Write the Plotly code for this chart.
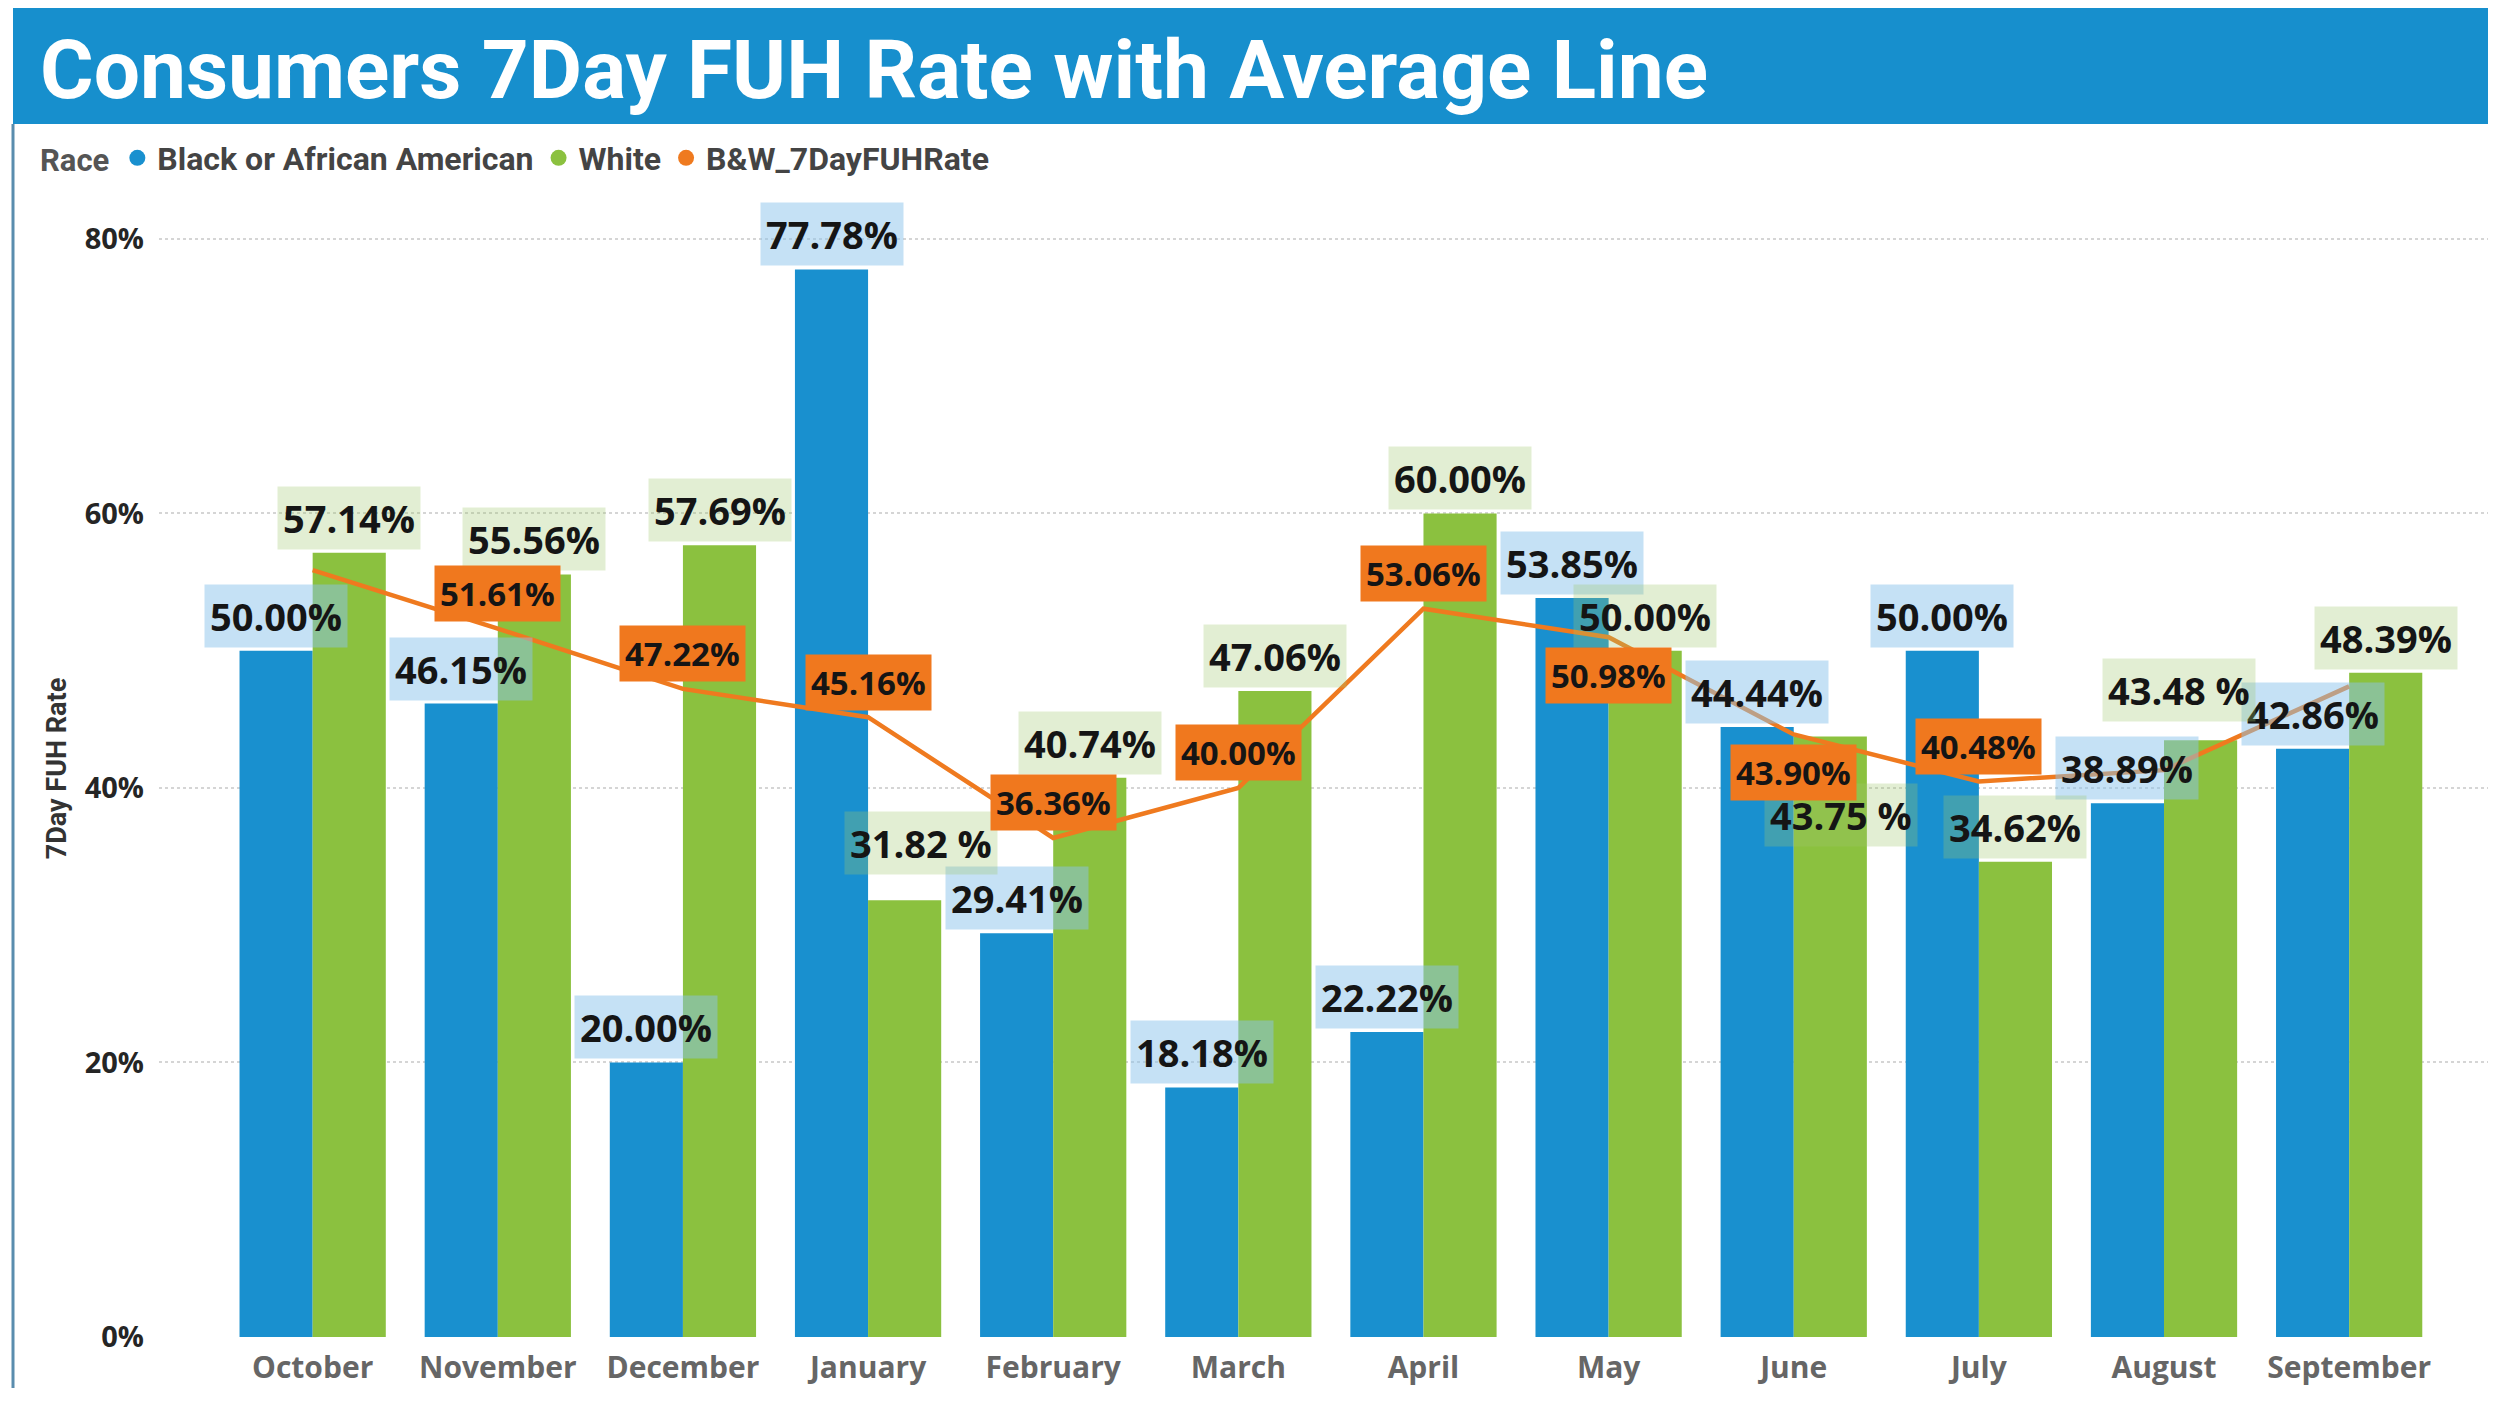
import plotly.graph_objects as go

# ---------------- data ----------------
months = ["October", "November", "December", "January", "February", "March",
          "April", "May", "June", "July", "August", "September"]
black_rate = [50.00, 46.15, 20.00, 77.78, 29.41, 18.18, 22.22, 53.85, 44.44, 50.00, 38.89, 42.86]
white_rate = [57.14, 55.56, 57.69, 31.82, 40.74, 47.06, 60.00, 50.00, 43.75, 34.62, 43.48, 48.39]
bw_rate = [55.88, 51.61, 47.22, 45.16, 36.36, 40.00, 53.06, 50.98, 43.90, 40.48, 41.30, 47.40]
y_ticks = [0, 20, 40, 60, 80]
y_tick_text = ["0%", "20%", "40%", "60%", "80%"]

# label quirks seen in the reference
white_label_spaced = {"January", "June", "August"}        # shown as "xx.xx %"
avg_label_hidden = {"October", "August", "September"}      # hidden by overlap
avg_label_below = {"May", "June"}                          # label placed under the line
white_label_shift = {"January": (16, 57), "June": (11, -78), "August": (-22, 50)}  # (xshift, yshift) px

# ---------------- geometry / style ----------------
W, H = 2480, 1395
ML, MR, MT, MB = 151, 0, 192, 66
PW, PH = W - ML - MR, H - MT - MB
Y_MAX = 82.84

def px(fx):
    return (fx - ML) / PW

def py(fy):
    return (H - MB - fy) / PH

BLUE = "#1990CF"
GREEN = "#8BC13F"
ORANGE = "#EF7A1F"
TITLE_BLUE = "#178FCD"
LABEL_FONT = dict(family="Open Sans", size=38, color="#151515", weight=700)
AVG_FONT = dict(family="Open Sans", size=33, color="#151515", weight=700)
BAR_OFF = 0.1975
LABEL_SHIFT = 35

fig = go.Figure()
fig.add_trace(go.Bar(x=months, y=black_rate, name="Black or African American",
                     marker=dict(color=BLUE, line=dict(width=0)), showlegend=False))
fig.add_trace(go.Bar(x=months, y=white_rate, name="White",
                     marker=dict(color=GREEN, line=dict(width=0)), showlegend=False))
fig.add_trace(go.Scatter(x=months, y=bw_rate, name="B&W_7DayFUHRate", mode="lines",
                         line=dict(color=ORANGE, width=4.5), showlegend=False))

# legend entries drawn as circles (as in the reference)
for name, col in [("Black or African American", BLUE), ("White", GREEN), ("B&W_7DayFUHRate", ORANGE)]:
    fig.add_trace(go.Scatter(x=[None], y=[None], mode="markers", name=name,
                             marker=dict(color=col, size=16, symbol="circle")))

ann = []
for i, (m, v) in enumerate(zip(months, black_rate)):
    ann.append(dict(x=i - BAR_OFF, y=v, xref="x", yref="y", text=f"{v:.2f}%",
                    showarrow=False, yshift=LABEL_SHIFT, font=LABEL_FONT,
                    bgcolor="rgba(140,195,235,0.5)", borderpad=5))
for i, (m, v) in enumerate(zip(months, white_rate)):
    txt = f"{v:.2f} %" if m in white_label_spaced else f"{v:.2f}%"
    xs, ys = white_label_shift.get(m, (0, LABEL_SHIFT))
    ann.append(dict(x=i + BAR_OFF, y=v, xref="x", yref="y", text=txt,
                    showarrow=False, xshift=xs, yshift=ys, font=LABEL_FONT,
                    bgcolor="rgba(160,200,110,0.3)", borderpad=5))
for i, (m, v) in enumerate(zip(months, bw_rate)):
    if m in avg_label_hidden:
        continue
    ys = -38 if m in avg_label_below else LABEL_SHIFT
    ann.append(dict(x=i, y=v, xref="x", yref="y", text=f"{v:.2f}%",
                    showarrow=False, yshift=ys, font=AVG_FONT,
                    bgcolor="#F0781E", borderpad=5))

# title
ann.append(dict(x=px(30), y=py(62), xref="paper", yref="paper", xanchor="left", yanchor="middle",
                text="<b>Consumers 7Day FUH Rate with Average Line</b>", showarrow=False,
                font=dict(family="Roboto", size=82, color="white")))

shapes = [
    dict(type="rect", xref="paper", yref="paper", x0=px(5), x1=1.0, y0=py(116), y1=py(0) + 0.01,
         fillcolor=TITLE_BLUE, line=dict(width=0), layer="below"),
    dict(type="line", xref="paper", yref="paper", x0=px(5), x1=px(5), y0=py(116), y1=py(1380),
         line=dict(color="#5A8DAE", width=3)),
]

fig.update_layout(
    width=W, height=H,
    margin=dict(l=ML, r=MR, t=MT, b=MB, autoexpand=False),
    paper_bgcolor="white", plot_bgcolor="white",
    barmode="group", bargap=0.21, bargroupgap=0.0,
    font=dict(family="Open Sans", color="#333333"),
    showlegend=True,
    legend=dict(orientation="h", x=px(30), y=py(150), xanchor="left", yanchor="middle",
                title=dict(text="<b>Race</b>", font=dict(family="Roboto", size=31, color="#555555")),
                font=dict(family="Roboto", size=32, color="#444444", weight=700),
                itemwidth=30, bgcolor="rgba(0,0,0,0)", tracegroupgap=0),
    xaxis=dict(type="category", range=[-0.83, 11.75], showgrid=False, showline=False,
               ticks="", ticklabelstandoff=10,
               tickfont=dict(family="Open Sans", size=30, color="#666666", weight=700),
               fixedrange=True),
    yaxis=dict(range=[0, Y_MAX], tickvals=y_ticks, ticktext=y_tick_text, showgrid=True,
               gridcolor="#D5D5D5", griddash="dot", gridwidth=2, zeroline=False, showline=False,
               ticks="", ticklabelstandoff=14,
               tickfont=dict(family="Open Sans", size=29, color="#252525", weight=700),
               title=dict(text="7Day FUH Rate", standoff=10,
                          font=dict(family="Roboto", size=27, color="#333333", weight=700))),
    annotations=ann,
    shapes=shapes,
)

fig.write_html("out.html")
